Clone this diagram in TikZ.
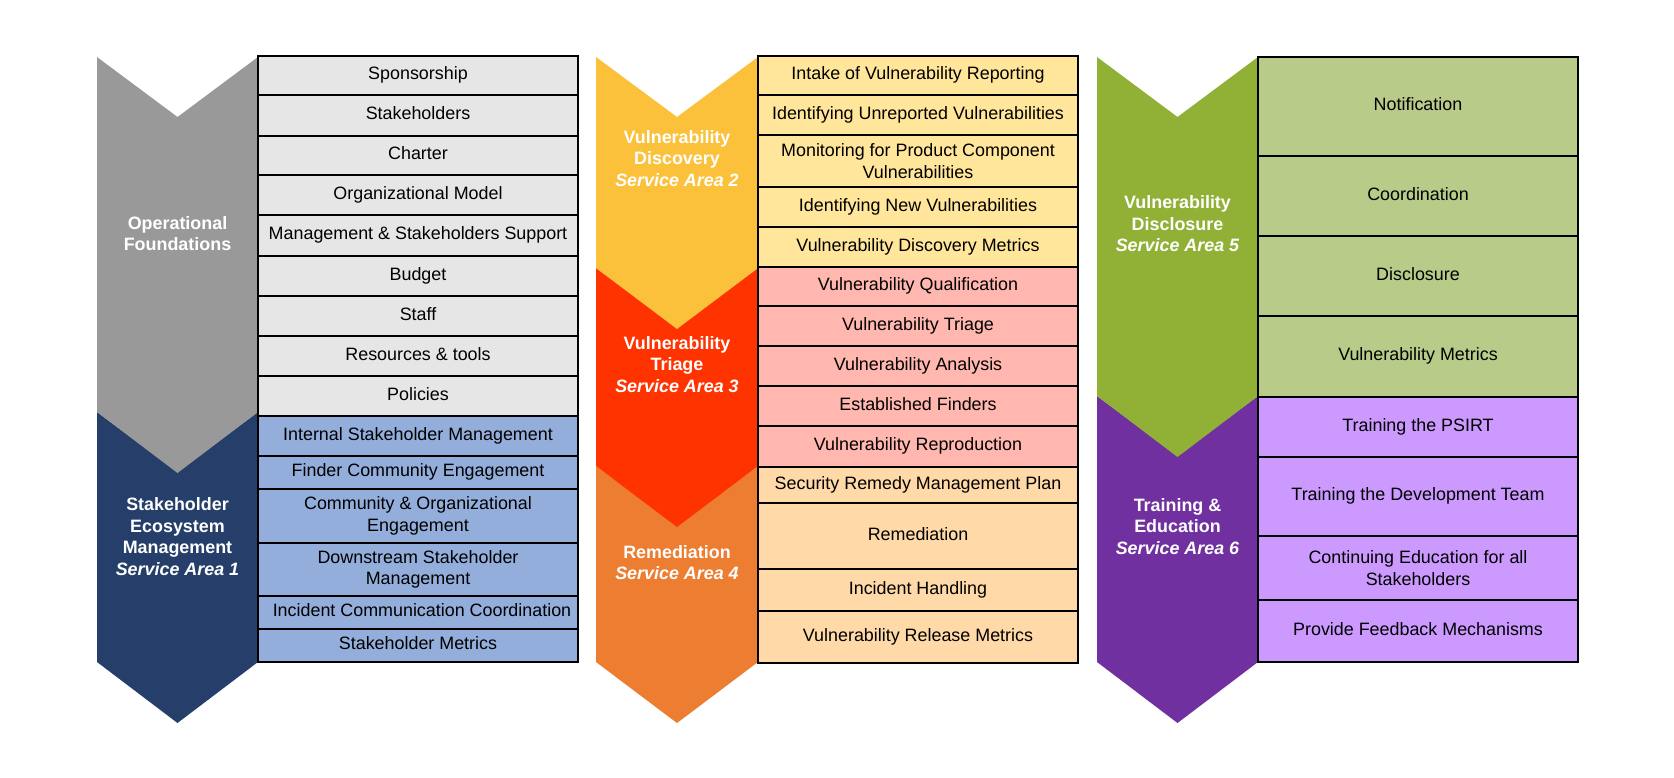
\documentclass[tikz,border=0pt]{standalone}
\usepackage{fontspec}
\setmainfont{Liberation Sans}
\definecolor{cgray}{HTML}{999999}
\definecolor{bgray}{HTML}{E6E6E6}
\definecolor{cnavy}{HTML}{253F6A}
\definecolor{bblue}{HTML}{94AEDC}
\definecolor{cyel}{HTML}{FBC13B}
\definecolor{byel}{HTML}{FFE69A}
\definecolor{cred}{HTML}{FF3300}
\definecolor{bpink}{HTML}{FFB7AF}
\definecolor{corange}{HTML}{ED7D31}
\definecolor{bpeach}{HTML}{FFD9A7}
\definecolor{cgreen}{HTML}{91B036}
\definecolor{bgreen}{HTML}{B8CB88}
\definecolor{cpurple}{HTML}{7030A0}
\definecolor{blav}{HTML}{CC99FF}
\tikzset{
  box/.style={draw=black, line width=2pt, rectangle, outer sep=0pt, inner sep=0pt,
    minimum width=320pt, align=center, text=black,
    font=\fontsize{17.9}{21.5}\selectfont},
  oneline/.style={text height=13pt, text depth=4.5pt},
  lab/.style={align=center, text=white, inner sep=0pt,
    font=\fontsize{17.9}{21.5}\selectfont\bfseries}
}
% chevron: L, R, top, bottom, colour
\newcommand{\chev}[5]{%
  \fill[#5] (#1,#3) -- ({(#1+#2)/2},{#3+60}) -- (#2,#3) -- (#2,#4)
    -- ({(#1+#2)/2},{#4+61}) -- (#1,#4) -- cycle;}
% one-line box: name, x, y1, y2, fill, text
\newcommand{\bx}[6]{%
  \node[box, oneline, fill=#5, minimum height={(#4-#3)*1pt}, anchor=north west] (#1) at (#2,#3) {#6};}
% two-line box
\newcommand{\bxt}[6]{%
  \node[box, fill=#5, minimum height={(#4-#3)*1pt}, anchor=north west] (#1) at (#2,#3) {#6};}
\begin{document}
\begin{tikzpicture}[x=1pt,y=-1pt]
\useasboundingbox (0,0) rectangle (1674,777);
\fill[white] (0,0) rectangle (1674,777);

% column 1 chevrons
\chev{97}{258}{412}{662}{cnavy}
\chev{97}{258}{57}{412}{cgray}
% column 2 chevrons
\chev{596}{758}{466}{662}{corange}
\chev{596}{758}{268}{466}{cred}
\chev{596}{758}{57}{268}{cyel}
% column 3 chevrons
\chev{1097}{1258}{396}{662}{cpurple}
\chev{1097}{1258}{57}{396}{cgreen}

% labels
\node[lab] (l1) at (177.5,233.5) {Operational\\Foundations};
\node[lab] (l2) at (177.5,536.5) {Stakeholder\\Ecosystem\\Management\\\itshape Service Area 1};
\node[lab] (l3) at (677,158.5) {Vulnerability\\Discovery\\\itshape Service Area 2};
\node[lab] (l4) at (677,364.5) {Vulnerability\\Triage\\\itshape Service Area 3};
\node[lab] (l5) at (677,562.5) {Remediation\\\itshape Service Area 4};
\node[lab] (l6) at (1177.5,224) {Vulnerability\\Disclosure\\\itshape Service Area 5};
\node[lab] (l7) at (1177.5,526.5) {Training \&\\Education\\\itshape Service Area 6};

% column 1 boxes
\bx{a1}{258}{56}{95}{bgray}{Sponsorship}
\bx{a2}{258}{95}{136}{bgray}{Stakeholders}
\bx{a3}{258}{136}{175}{bgray}{Charter}
\bx{a4}{258}{175}{215}{bgray}{Organizational Model}
\bx{a5}{258}{215}{256}{bgray}{Management \& Stakeholders Support}
\bx{a6}{258}{256}{296}{bgray}{Budget}
\bx{a7}{258}{296}{336}{bgray}{Staff}
\bx{a8}{258}{336}{376}{bgray}{Resources \& tools}
\bx{a9}{258}{376}{416}{bgray}{Policies}
\bx{b1}{258}{416}{456}{bblue}{Internal Stakeholder Management}
\bx{b2}{258}{456}{489}{bblue}{Finder Community Engagement}
\bxt{b3}{258}{489}{543}{bblue}{Community \& Organizational\\Engagement}
\bxt{b4}{258}{543}{596}{bblue}{Downstream Stakeholder\\Management}
\bx{b5}{258}{596}{629}{bblue}{\hspace*{8pt}Incident Communication Coordination}
\bx{b6}{258}{629}{662}{bblue}{Stakeholder Metrics}

% column 2 boxes
\bx{c1}{758}{56}{95}{byel}{Intake of Vulnerability Reporting}
\bx{c2}{758}{95}{135}{byel}{Identifying Unreported Vulnerabilities}
\bxt{c3}{758}{135}{187}{byel}{Monitoring for Product Component\\Vulnerabilities}
\bx{c4}{758}{187}{227}{byel}{Identifying New Vulnerabilities}
\bx{c5}{758}{227}{267}{byel}{Vulnerability Discovery Metrics}
\bx{d1}{758}{267}{306}{bpink}{Vulnerability Qualification}
\bx{d2}{758}{306}{346}{bpink}{Vulnerability Triage}
\bx{d3}{758}{346}{386}{bpink}{Vulnerability Analysis}
\bx{d4}{758}{386}{426}{bpink}{Established Finders}
\bx{d5}{758}{426}{467}{bpink}{Vulnerability Reproduction}
\bx{e1}{758}{467}{503}{bpeach}{Security Remedy Management Plan}
\bx{e2}{758}{503}{569}{bpeach}{Remediation}
\bx{e3}{758}{569}{611}{bpeach}{Incident Handling}
\bx{e4}{758}{611}{663}{bpeach}{Vulnerability Release Metrics}

% column 3 boxes
\bx{f1}{1258}{57}{156}{bgreen}{Notification}
\bx{f2}{1258}{156}{236}{bgreen}{Coordination}
\bx{f3}{1258}{236}{316}{bgreen}{Disclosure}
\bx{f4}{1258}{316}{397}{bgreen}{Vulnerability Metrics}
\bx{g1}{1258}{397}{457}{blav}{Training the PSIRT}
\bx{g2}{1258}{457}{536}{blav}{Training the Development Team}
\bxt{g3}{1258}{536}{600}{blav}{Continuing Education for all\\Stakeholders}
\bx{g4}{1258}{600}{662}{blav}{Provide Feedback Mechanisms}
\end{tikzpicture}
\end{document}
